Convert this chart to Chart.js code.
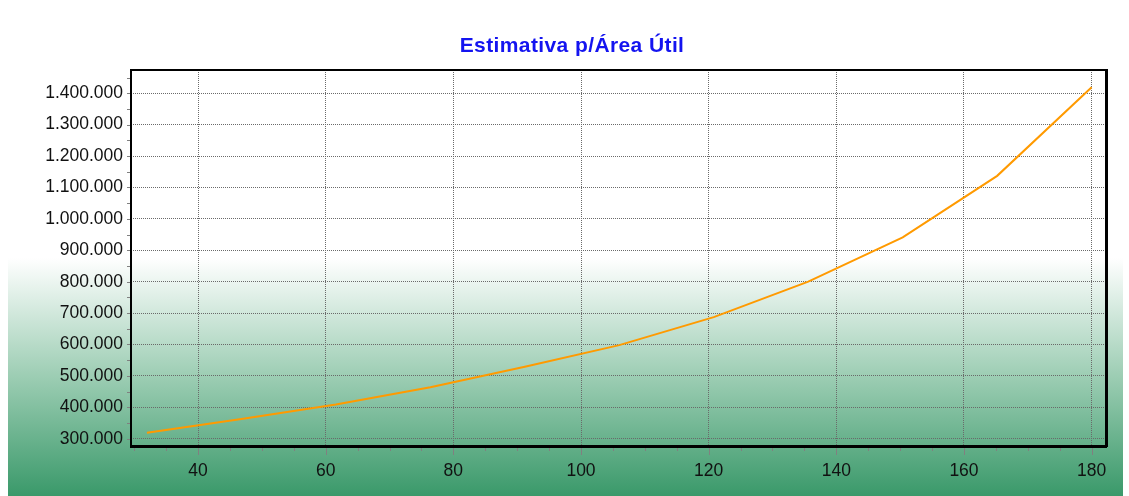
<!DOCTYPE html>
<html>
<head>
<meta charset="utf-8">
<script src="https://cdn.jsdelivr.net/npm/chart.js@4.4.1/dist/chart.umd.min.js"></script>
<style>
  body { margin: 0; background: #fff; }
  #wrap { width: 1129px; height: 496px; position: relative; }
</style>
</head>
<body>
<div id="wrap"><canvas id="myChart"></canvas></div>
<script>
// data
const xValues = [32, 46.8, 61.6, 76.4, 91.2, 106, 120.8, 135.6, 150.4, 165.2, 180];
const yValues = [319000, 363000, 409000, 464000, 529000, 598000, 687000, 800000, 941000, 1137000, 1419000];
const xTickLabels = [40, 60, 80, 100, 120, 140, 160, 180];
const yTickLabels = [300000, 400000, 500000, 600000, 700000, 800000, 900000, 1000000, 1100000, 1200000, 1300000, 1400000];
const titleText = 'Estimativa p/Área Útil';

// minor tick marks (x every 5, y every 50.000)
let xMinor = [];
for (let v = 30; v <= 180; v += 5) xMinor.push(v);
let yMinor = [];
for (let v = 300000; v <= 1450000; v += 50000) yMinor.push(v);

function fmt(v) {
    return String(v).replace(/\B(?=(\d{3})+(?!\d))/g, '.');
}

let bgPlugin = {
    id: 'bg',
    beforeDraw(chart) {
        let c = chart.ctx;
        c.save();
        c.fillStyle = '#ffffff';
        c.fillRect(0, 0, chart.width, chart.height);
        let g = c.createLinearGradient(0, 258, 0, 496);
        g.addColorStop(0, '#ffffff');
        g.addColorStop(0.5, '#9ccdb3');
        g.addColorStop(1, '#3a996a');
        c.fillStyle = g;
        c.fillRect(8, 258, 1115, 238);
        // title
        c.font = 'bold 21px "Liberation Sans", Arial, sans-serif';
        c.letterSpacing = '0.4px';
        c.fillStyle = '#1414f0';
        c.textAlign = 'center';
        c.textBaseline = 'middle';
        c.fillText(titleText, 572, 46);
        c.restore();
    }
};

// frame + tick marks (major ones longer than minor ones)
let framePlugin = {
    id: 'frame',
    afterDatasetsDraw(chart) {
        let a = chart.chartArea;
        let c = chart.ctx;
        let sx = chart.scales.x, sy = chart.scales.y;
        c.save();
        c.strokeStyle = '#808080';
        c.lineWidth = 1;
        c.beginPath();
        xMinor.forEach(v => {
            let px = Math.round(sx.getPixelForValue(v)) + 0.5;
            let len = xTickLabels.includes(v) ? 9 : 5;
            c.moveTo(px, a.bottom);
            c.lineTo(px, a.bottom + len);
        });
        yMinor.forEach(v => {
            let py = Math.round(sy.getPixelForValue(v)) + 0.5;
            c.moveTo(a.left - 4, py);
            c.lineTo(a.left, py);
        });
        c.stroke();

        c.strokeStyle = '#000';
        c.lineWidth = 2;
        c.strokeRect(a.left, a.top, a.right - a.left, a.bottom - a.top);
        c.lineWidth = 3;
        c.beginPath();
        c.moveTo(a.left - 1, a.bottom + 0.5);
        c.lineTo(a.right + 1, a.bottom + 0.5);
        c.moveTo(a.right + 0.5, a.top - 1);
        c.lineTo(a.right + 0.5, a.bottom + 1);
        c.stroke();
        c.restore();
    }
};

let tickFont = { family: '"Liberation Sans", Arial, sans-serif', size: 17.5 };

let chart1 = new Chart(document.getElementById('myChart').getContext('2d'), {
    type: 'line',
    data: {
        datasets: [{
            data: xValues.map((x, i) => ({ x: x, y: yValues[i] })),
            borderColor: '#ff9a00',
            borderWidth: 2,
            pointRadius: 0,
            tension: 0,
            fill: false
        }]
    },
    options: {
        responsive: true,
        maintainAspectRatio: false,
        animation: false,
        layout: { padding: { top: 70, right: 23, left: 0, bottom: 0 } },
        plugins: {
            legend: { display: false },
            title: { display: false },
            tooltip: { enabled: false }
        },
        scales: {
            x: {
                type: 'linear',
                min: 29.5,
                max: 182.25,
                afterBuildTicks(scale) { scale.ticks = xMinor.map(v => ({ value: v })); },
                afterFit(scale) { scale.height = 50; },
                border: { display: false, dash: [1, 1] },
                grid: {
                    color: ctx => xTickLabels.includes(ctx.tick && ctx.tick.value) ? '#6a6a6a' : 'rgba(0,0,0,0)',
                    drawTicks: false,
                    lineWidth: 1
                },
                ticks: {
                    autoSkip: false,
                    maxRotation: 0,
                    color: '#111',
                    font: tickFont,
                    padding: 15,
                    callback: v => xTickLabels.includes(v) ? String(v) : ''
                }
            },
            y: {
                type: 'linear',
                min: 276800,
                max: 1474000,
                afterBuildTicks(scale) { scale.ticks = yMinor.map(v => ({ value: v })); },
                afterFit(scale) { scale.width = 131; },
                border: { display: false, dash: [1, 1] },
                grid: {
                    color: ctx => yTickLabels.includes(ctx.tick && ctx.tick.value) ? '#6a6a6a' : 'rgba(0,0,0,0)',
                    drawTicks: false,
                    lineWidth: 1
                },
                ticks: {
                    autoSkip: false,
                    color: '#111',
                    font: tickFont,
                    padding: 8,
                    callback: v => yTickLabels.includes(v) ? fmt(v) : ''
                }
            }
        }
    },
    plugins: [bgPlugin, framePlugin]
});
</script>
</body>
</html>
